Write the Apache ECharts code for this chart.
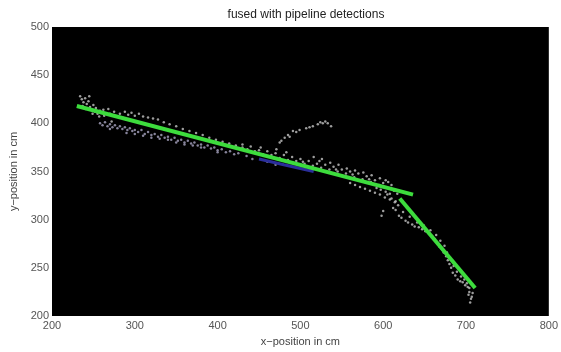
<!DOCTYPE html>
<html>
<head>
<meta charset="utf-8">
<script src="https://cdn.jsdelivr.net/npm/echarts@6/dist/echarts.min.js"></script>
<style>html,body{margin:0;padding:0;background:#fff;}#c{width:561px;height:352px;}</style>
</head>
<body>
<div id="c"></div>
<script>
var titleText = "fused with pipeline detections";
var xName = "x\u2212position in cm";
var yName = "y\u2212position in cm";
var xTicks = [200, 300, 400, 500, 600, 700, 800];
var yTicks = [200, 250, 300, 350, 400, 450, 500];

var greenSeg1 = [[230, 418], [636, 326]];
var greenSeg2 = [[620, 322], [711, 229]];
var blueTrack = [[450, 363], [480, 357], [516, 350]];

var greyPoints = [
  [234,428],[236,425],[238,422],[240,426],[242,420],[244,423],[246,417],[248,414],[250,419],[252,412],[255,410],[258,413],
  [237,418],[241,415],[245,428],[249,410],[253,416],[257,407],[263,408],[270,410],[278,407],[285,406],[272,402],[290,404],
  [262,414],[268,415],[275,412],[282,410],[288,412],[292,409],[296,411],[300,408],[305,410],[310,407],[316,406],[322,405],
  [328,404],[335,401],[342,399],[350,397],[358,394],[366,392],[374,390],[382,388],[390,385],[398,383],[406,381],[414,379],
  [422,377],[430,375],
  [440,376],[450,372],[452,375],[460,371],[470,369],[480,367],[483,370],[490,365],[500,363],[503,360],[510,361],[520,358],
  [523,361],[530,357],[540,355],[543,352],[550,352],[560,350],[563,347],[570,348],[580,345],[583,342],[590,341],[600,338],
  [603,341],[610,336],
  [430,378],[436,373],[445,371],[455,368],[465,367],[475,364],[485,362],[495,361],[505,358],[515,356],[525,354],[535,352],
  [545,350],[555,348],[565,344],[575,342],[585,339],[595,336],[546,357],[556,353],[566,351],[576,349],[586,346],[596,343],
  [606,339],[536,359],[526,363],[516,365],
  [560,338],[566,336],[572,334],[578,332],[584,330],[590,328],[596,326],[602,323],[608,321],[614,318],[618,315],[612,312],
  [592,333],[597,331],[603,329],[608,327],[613,330],[617,327],
  [598,304],[600,309],[605,326],[610,322],[615,319],
  [471,373],[475,380],[481,385],[485,388],[491,392],[499,393],[507,395],[515,397],[521,399],[527,400],[533,400],[537,397],
  [477,382],[495,391],[511,396],[524,401],[530,402],[487,386],
  [619,304],[627,299],[635,295],[643,292],[651,288],[659,283],[665,276],[671,269],[676,262],[680,254],[684,245],[690,238],
  [696,235],[702,230],[704,225],[706,218],[615,310],[622,302],[630,297],[638,293],[647,290],[655,286],[662,280],[668,272],
  [673,266],[678,258],[682,250],[687,242],[693,236],[699,232],[703,222],[707,220],[705,214],
  [624,308],[632,303],[641,297],[649,294],[657,289],[664,284],[669,278],[674,273],[677,266],[681,259],[685,252],[689,246],
  [694,241],[698,238],[701,234],[704,229],[708,224]
];

var bluishPoints = [
  [258,400],[261,398],[264,401],[267,397],[270,399],[273,396],[276,398],[279,395],[282,397],[285,394],[288,396],[291,393],
  [294,395],[297,392],[300,393],[304,391],[308,393],[312,389],[316,391],[320,388],[324,389],[328,386],[332,388],[336,385],
  [340,386],[344,383],[348,385],[352,382],[356,383],[360,380],[364,382],[368,379],[372,380],[376,377],[380,378],[384,375],
  [388,377],[392,374],[396,375],[400,372],[405,373],[410,370],[415,371],[420,368],[425,369],
  [300,389],[320,385],[340,383],[360,378],[380,375],[400,370],[270,394],[290,390],[310,387],[330,384],[350,380],[370,377],
  [435,366],[442,363],[460,360],[470,357]
];

var chart = echarts.init(document.getElementById('c'), null, {renderer: 'canvas'});
var fontFam = "'Liberation Sans', Arial, sans-serif";
chart.setOption({
  animation: false,
  backgroundColor: '#ffffff',
  title: {
    text: titleText, left: 301, top: 4, textAlign: 'center',
    textStyle: {fontSize: 12, fontWeight: 'normal', color: '#222', fontFamily: fontFam}
  },
  grid: {left: 52, right: 11, top: 27, bottom: 35, show: true, backgroundColor: '#000000', borderWidth: 0},
  xAxis: {
    type: 'value', min: xTicks[0], max: xTicks[xTicks.length - 1], interval: 100,
    name: xName, nameLocation: 'middle', nameGap: 20,
    nameTextStyle: {fontSize: 11, color: '#444', fontFamily: fontFam},
    axisLine: {show: false}, axisTick: {show: false}, splitLine: {show: false},
    axisLabel: {fontSize: 11, color: '#555', margin: 4, fontFamily: fontFam}
  },
  yAxis: {
    type: 'value', min: yTicks[0], max: yTicks[yTicks.length - 1], interval: 50,
    name: yName, nameLocation: 'middle', nameGap: 30,
    nameTextStyle: {fontSize: 11, color: '#444', fontFamily: fontFam},
    axisLine: {show: false}, axisTick: {show: false}, splitLine: {show: false},
    axisLabel: {fontSize: 11, color: '#555', margin: 3, fontFamily: fontFam}
  },
  series: [
    {type: 'scatter', data: greyPoints, symbolSize: 2.5, itemStyle: {color: '#c4c4c4'}, silent: true},
    {type: 'scatter', data: bluishPoints, symbolSize: 2.5, itemStyle: {color: '#a8a4c0'}, silent: true},
    {type: 'line', data: blueTrack, showSymbol: false, lineStyle: {color: '#2a2e9a', width: 3}, silent: true},
    {type: 'line', data: greenSeg1, showSymbol: false, lineStyle: {color: '#3ddc3d', width: 4}, silent: true},
    {type: 'line', data: greenSeg2, showSymbol: false, lineStyle: {color: '#3ddc3d', width: 4}, silent: true}
  ]
});
</script>
</body>
</html>
